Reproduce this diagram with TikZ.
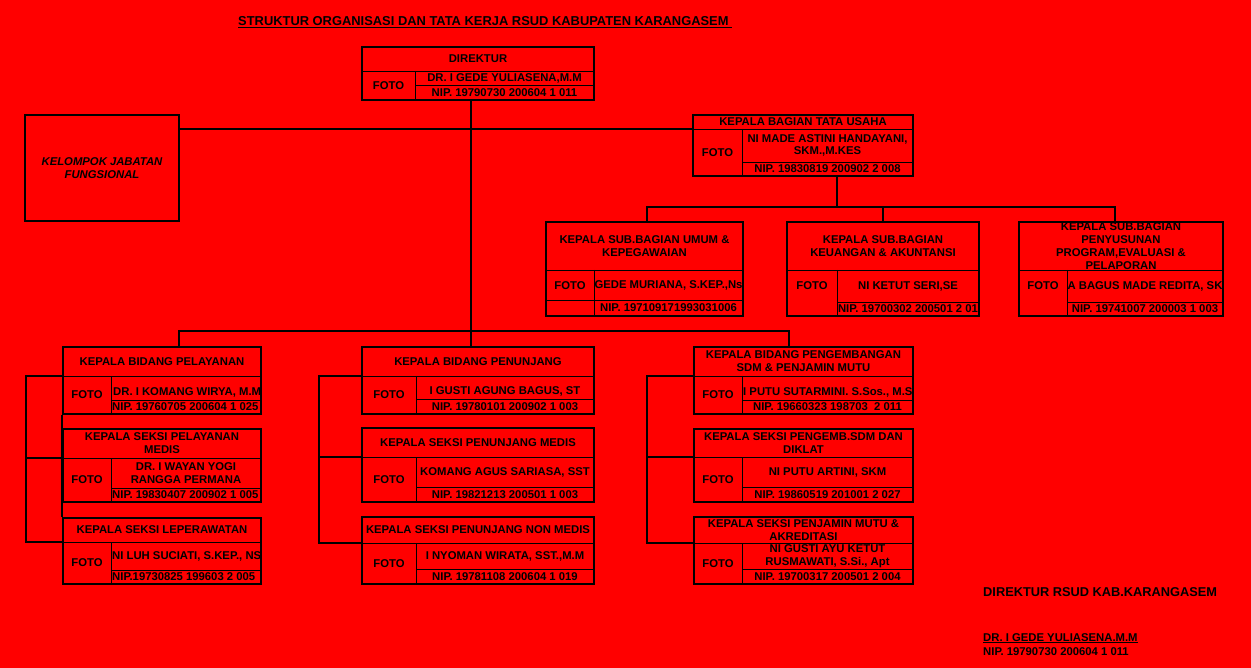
\documentclass[tikz,border=0pt]{standalone}
\usepackage{fontspec}
\setmainfont{Liberation Sans}
\usetikzlibrary{fit}

\tikzset{
  kotak/.style={draw,line width=1.6pt,inner sep=0pt},
  garis/.style={line width=0.8pt},
  hub/.style={line width=1.8pt},
  batang/.style={line width=2.6pt},
  teks/.style={font=\bfseries\fontsize{11.3}{12.8}\selectfont,align=center,inner sep=0pt},
}

% #1 nama, (#2,#3)-(#4,#5) sudut, #6 garis judul, #7 kolom foto, #8 garis NIP, #9 y FOTO
\newcommand{\jabatan}[9]{%
  \draw[garis] (#2,#6) coordinate (#1-h) -- (#4,#6);
  \draw[garis] (#7,#6) -- (#7,#5);
  \draw[garis] (#7,#8) -- (#4,#8);
  \node[kotak,fit={(#2,#3) (#4,#5)}] (#1) {};
  \coordinate (#1-cj) at ({(#2+#4)/2},{(#3+#6)/2});
  \coordinate (#1-cn) at ({(#7+#4)/2},{(#6+#8)/2});
  \coordinate (#1-cp) at ({(#7+#4)/2},{(#8+#5)/2});
  \coordinate (#1-xf) at (#7,0);
  \node[teks] (#1-f) at ({(#2+#7)/2},#9) {FOTO};
}

\begin{document}
\begin{tikzpicture}[x=1pt,y=-1pt]
\useasboundingbox (0,0) rectangle (1251,668);
\fill[red] (0,0) rectangle (1251,668);

\node[anchor=base west,inner sep=0pt,font=\bfseries\fontsize{12.9}{14}\selectfont] (judul) at (238,26) {\underline{STRUKTUR ORGANISASI DAN TATA KERJA RSUD KABUPATEN KARANGASEM\ }};

% direktur dan tata usaha
\jabatan{dir}{362}{47}{594}{100}{71}{415}{85}{85.5}
\node[teks] (dir-j) at (dir-cj) {DIREKTUR};
\node[teks] (dir-n) at (dir-cn) {DR. I GEDE YULIASENA,M.M};
\node[teks] (dir-p) at (dir-cp) {NIP. 19790730 200604 1 011};

\node[kotak,fit={(25,115) (179,221)}] (kjf) {};
\node[teks,font=\bfseries\itshape\fontsize{11.3}{13}\selectfont] (kjf-t) at (kjf) {KELOMPOK JABATAN\\FUNGSIONAL};

\jabatan{tu}{693}{115}{913}{176}{129}{742}{162}{152.5}
\node[teks] (tu-j) at (tu-cj) {KEPALA BAGIAN TATA USAHA};
\node[teks] (tu-n) at (tu-cn) {NI MADE ASTINI HANDAYANI,\\SKM.,M.KES};
\node[teks] (tu-p) at (tu-cp) {NIP. 19830819 200902 2 008};

% sub bagian
\jabatan{sbu}{546}{222}{743}{316}{270}{594}{300}{286}
\draw[garis] (546,300) -- (594,300);
\node[teks] (sbu-j) at (sbu-cj) {KEPALA SUB.BAGIAN UMUM \&\\KEPEGAWAIAN};
\begin{scope}
  \clip (594,270) rectangle (743,300);
  \node[teks] (sbu-n) at (sbu-cn) {GEDE MURIANA, S.KEP.,Ns};
\end{scope}
\node[teks] (sbu-p) at (sbu-cp) {NIP. 197109171993031006};

\jabatan{sbk}{787}{222}{979}{316}{270}{837}{302}{286}
\node[teks] (sbk-j) at (sbk-cj) {KEPALA SUB.BAGIAN\\KEUANGAN \& AKUNTANSI};
\node[teks] (sbk-n) at (sbk-cn) {NI KETUT SERI,SE};
\begin{scope}
  \clip (837,302) rectangle (979,316);
  \node[teks] (sbk-p) at (sbk-cp) {NIP. 19700302 200501 2 01};
\end{scope}

\jabatan{sbp}{1019}{222}{1223}{316}{270}{1067}{302}{286}
\node[teks] (sbp-j) at (sbp-cj) {KEPALA SUB.BAGIAN\\PENYUSUNAN\\PROGRAM,EVALUASI \&\\PELAPORAN};
\begin{scope}
  \clip (1067,270) rectangle (1223,316);
  \node[teks] (sbp-n) at (sbp-cn) {A BAGUS MADE REDITA, SK};
  \node[teks] (sbp-p) at (sbp-cp) {NIP. 19741007 200003 1 003};
\end{scope}

% bidang pelayanan
\jabatan{byn}{63}{347}{261}{414}{376}{111}{400}{395}
\node[teks] (byn-j) at (byn-cj) {KEPALA BIDANG PELAYANAN};
\begin{scope}
  \clip (111,376) rectangle (261,414);
  \node[teks,anchor=west,xshift=2pt,yshift=-4pt] (byn-n) at (byn-cn -| byn-xf) {DR. I KOMANG WIRYA, M.M};
  \node[teks,anchor=west,xshift=1pt] (byn-p) at (byn-cp -| byn-xf) {NIP. 19760705 200604 1 025};
\end{scope}

\jabatan{smd}{63}{429}{261}{502}{458}{111}{488}{480}
\node[teks] (smd-j) at (smd-cj) {KEPALA SEKSI PELAYANAN\\MEDIS};
\node[teks] (smd-n) at (smd-cn) {DR. I WAYAN YOGI\\RANGGA PERMANA};
\begin{scope}
  \clip (111,488) rectangle (261,502);
  \node[teks,anchor=west,xshift=1pt] (smd-p) at (smd-cp -| smd-xf) {NIP. 19830407 200902 1 005};
\end{scope}

\jabatan{slp}{63}{518}{261}{584}{542}{111}{570}{563}
\node[teks] (slp-j) at (slp-cj) {KEPALA SEKSI LEPERAWATAN};
\begin{scope}
  \clip (111,542) rectangle (261,584);
  \node[teks,anchor=west,xshift=1pt] (slp-n) at (slp-cn -| slp-xf) {NI LUH SUCIATI, S.KEP., NS};
  \node[teks,anchor=west,xshift=1pt] (slp-p) at (slp-cp -| slp-xf) {NIP.19730825 199603 2 005};
\end{scope}

% bidang penunjang
\jabatan{bpn}{362}{347}{594}{414}{376}{416}{399}{395}
\node[teks] (bpn-j) at (bpn-cj) {KEPALA BIDANG PENUNJANG};
\node[teks,yshift=-4pt] (bpn-n) at (bpn-cn) {I GUSTI AGUNG BAGUS, ST};
\node[teks] (bpn-p) at (bpn-cp) {NIP. 19780101 200902 1 003};

\jabatan{bpm}{362}{428}{594}{502}{457}{416}{487}{479.5}
\node[teks] (bpm-j) at (bpm-cj) {KEPALA SEKSI PENUNJANG MEDIS};
\node[teks] (bpm-n) at (bpm-cn) {KOMANG AGUS SARIASA, SST};
\node[teks] (bpm-p) at (bpm-cp) {NIP. 19821213 200501 1 003};

\jabatan{bnm}{362}{517}{594}{584}{543}{416}{569}{563.5}
\node[teks] (bnm-j) at (bnm-cj) {KEPALA SEKSI PENUNJANG NON MEDIS};
\node[teks] (bnm-n) at (bnm-cn) {I NYOMAN WIRATA, SST.,M.M};
\node[teks] (bnm-p) at (bnm-cp) {NIP. 19781108 200604 1 019};

% bidang pengembangan
\jabatan{bpg}{694}{347}{913}{414}{376}{742}{400}{395}
\node[teks] (bpg-j) at (bpg-cj) {KEPALA BIDANG PENGEMBANGAN\\SDM \& PENJAMIN MUTU};
\begin{scope}
  \clip (742,376) rectangle (913,400);
  \node[teks,anchor=west,xshift=1pt,yshift=-4pt] (bpg-n) at (bpg-cn -| bpg-xf) {I PUTU SUTARMINI. S.Sos., M.Si};
\end{scope}
\node[teks] (bpg-p) at (bpg-cp) {NIP. 19660323 198703\ \ 2 011};

\jabatan{bsd}{694}{429}{913}{502}{457}{742}{487}{479.5}
\node[teks] (bsd-j) at (bsd-cj) {KEPALA SEKSI PENGEMB.SDM DAN\\DIKLAT};
\node[teks] (bsd-n) at (bsd-cn) {NI PUTU ARTINI, SKM};
\node[teks] (bsd-p) at (bsd-cp) {NIP. 19860519 201001 2 027};

\jabatan{bpj}{694}{517}{913}{584}{543}{742}{569}{563.5}
\node[teks] (bpj-j) at (bpj-cj) {KEPALA SEKSI PENJAMIN MUTU \&\\AKREDITASI};
\node[teks] (bpj-n) at (bpj-cn) {NI GUSTI AYU KETUT\\RUSMAWATI, S.Si., Apt};
\node[teks] (bpj-p) at (bpj-cp) {NIP. 19700317 200501 2 004};

% garis hubung
\coordinate (pusat) at (471,331);
\coordinate (kiri) at (179,331);
\coordinate (kanan) at (789,331);
\draw[batang] (dir.south -| pusat) -- (bpn.north -| pusat);
\draw[hub] (kjf.east |- tu-h) -- (tu-h);
\draw[hub] (byn.north -| kiri) |- (kanan) -- (bpg.north -| kanan);

\coordinate (tu-bus) at (837,207);
\coordinate (sb1) at (647,207);
\coordinate (sb3) at (1115,207);
\draw[hub] (tu.south -| tu-bus) -- (tu-bus);
\draw[hub] (sbu.north -| sb1) |- (sb3) -- (sbp.north -| sb3);
\draw[hub] (sbk.north) -- (sbk.north |- sb1);

\draw[hub] (byn-h) -- ++(-37,0) |- (slp-h);
\draw[hub] (smd-h) -- ++(-37,0);
\draw[hub] (byn.south west) -- (slp.north west);
\draw[hub] (bpn-h) -- ++(-43,0) |- (bnm-h);
\draw[hub] (bpm-h) -- ++(-43,0);
\draw[hub] (bpg-h) -- ++(-47,0) |- (bpj-h);
\draw[hub] (bsd-h) -- ++(-47,0);

% tanda tangan
\node[anchor=base west,inner sep=0pt,font=\bfseries\fontsize{12.8}{14}\selectfont] (ttd) at (983,596) {DIREKTUR RSUD KAB.KARANGASEM};
\node[teks,anchor=base west] (ttd-n) at (983,641) {\underline{DR. I GEDE YULIASENA.M.M}};
\node[teks,anchor=base west] (ttd-p) at (983,655) {NIP. 19790730 200604 1 011};
\end{tikzpicture}
\end{document}
